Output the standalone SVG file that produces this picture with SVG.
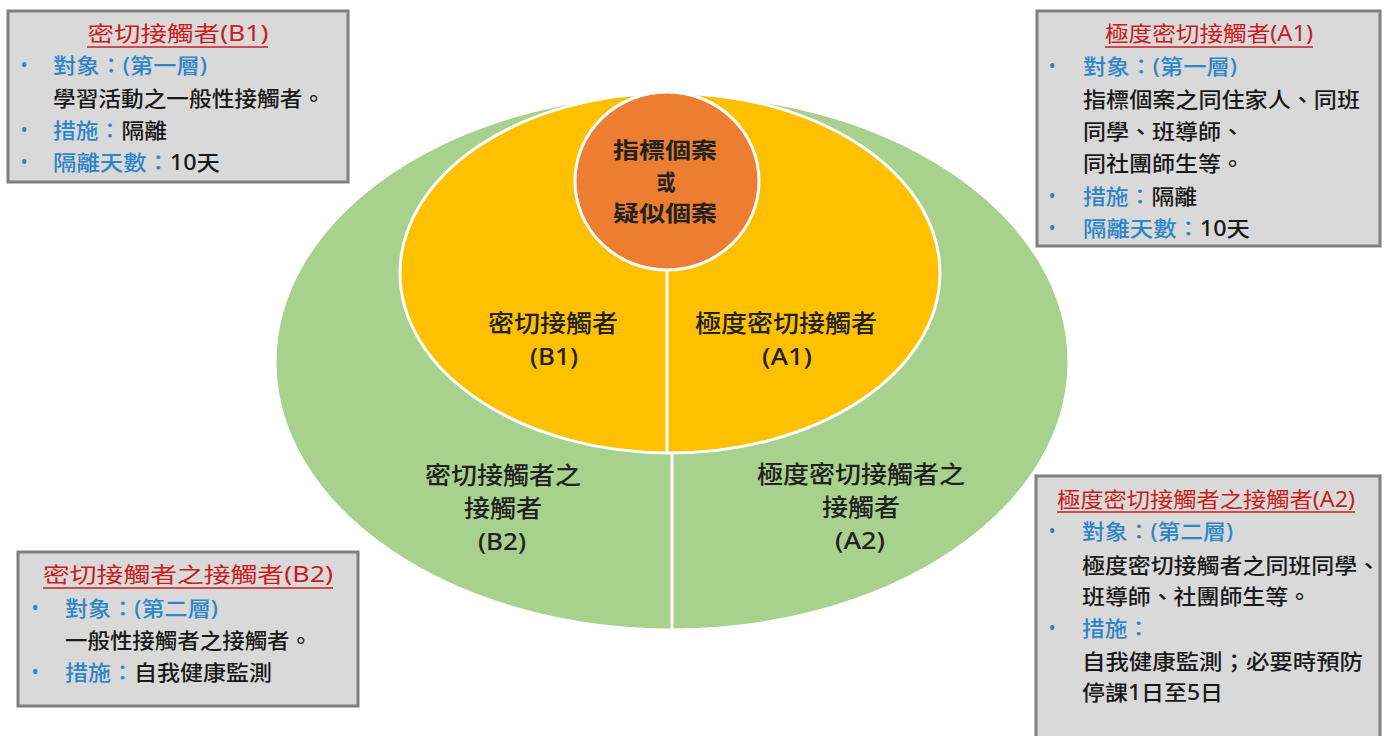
<svg xmlns="http://www.w3.org/2000/svg" width="1386" height="736" viewBox="0 0 1386 736">
<style>
text{font-family:"Noto Sans","Noto Sans CJK TC","Liberation Sans",sans-serif;fill:#1a1a1a}
.box{fill:#d9d9d9;stroke:#7f7f7f;stroke-width:3}
.title{font-size:21px;fill:#c81e1e;text-anchor:middle}
.ul{stroke:#c81e1e;stroke-width:1.5}
.body{font-size:21px;font-weight:500}
.lab{fill:#2e86c8}
.bul{font-size:19px;fill:#2e86c8;text-anchor:middle}
.el{font-size:24px;text-anchor:middle;font-weight:500;fill:#222}
.ctr{font-size:22px;text-anchor:middle;font-weight:bold;fill:#222}
.sep{stroke:#fff;stroke-width:3}
</style>
<rect width="1386" height="736" fill="#fff"/>
<g id="rings">
<ellipse cx="672" cy="362" rx="397" ry="268" fill="#a9d18e" stroke="#fff" stroke-width="3"/>
<ellipse cx="670" cy="273" rx="270" ry="180" fill="#ffc000" stroke="#fff" stroke-width="3"/>
<ellipse cx="667" cy="181" rx="92" ry="89" fill="#ed7d31" stroke="#fff" stroke-width="3"/>
<line class="sep" x1="667" y1="270" x2="667" y2="453"/>
<line class="sep" x1="672" y1="453" x2="672" y2="630"/>
</g>
<g id="index-case">
<text class="ctr" x="665" y="158" textLength="104" lengthAdjust="spacingAndGlyphs">指標個案</text>
<text class="ctr" x="666" y="190" textLength="19" lengthAdjust="spacingAndGlyphs">或</text>
<text class="ctr" x="665" y="221" textLength="104" lengthAdjust="spacingAndGlyphs">疑似個案</text>
</g>
<g id="B1-zone">
<text class="el" x="553" y="332" textLength="130" lengthAdjust="spacingAndGlyphs">密切接觸者</text>
<text class="el" x="554" y="365" textLength="48" lengthAdjust="spacingAndGlyphs">(B1)</text>
</g>
<g id="A1-zone">
<text class="el" x="786" y="332" textLength="182" lengthAdjust="spacingAndGlyphs">極度密切接觸者</text>
<text class="el" x="787" y="365" textLength="50" lengthAdjust="spacingAndGlyphs">(A1)</text>
</g>
<g id="B2-zone">
<text class="el" x="503" y="484" textLength="156" lengthAdjust="spacingAndGlyphs">密切接觸者之</text>
<text class="el" x="503" y="517" textLength="78" lengthAdjust="spacingAndGlyphs">接觸者</text>
<text class="el" x="502" y="550" textLength="48" lengthAdjust="spacingAndGlyphs">(B2)</text>
</g>
<g id="A2-zone">
<text class="el" x="861" y="483" textLength="208" lengthAdjust="spacingAndGlyphs">極度密切接觸者之</text>
<text class="el" x="861" y="516" textLength="78" lengthAdjust="spacingAndGlyphs">接觸者</text>
<text class="el" x="860" y="549" textLength="50" lengthAdjust="spacingAndGlyphs">(A2)</text>
</g>
<g id="box-B1">
<rect class="box" x="8" y="11" width="340" height="171"/>
<text class="title" x="178" y="41" textLength="181" lengthAdjust="spacingAndGlyphs">密切接觸者(B1)</text>
<line class="ul" x1="87" y1="47" x2="268" y2="47"/>
<text class="bul" x="24" y="72">•</text>
<text class="body" x="53" y="73" textLength="154" lengthAdjust="spacingAndGlyphs"><tspan class="lab">對象：(第一層)</tspan></text>
<text class="body" x="53" y="106" textLength="272" lengthAdjust="spacingAndGlyphs">學習活動之一般性接觸者。</text>
<text class="bul" x="24" y="137">•</text>
<text class="body" x="53" y="138" textLength="114" lengthAdjust="spacingAndGlyphs"><tspan class="lab">措施：</tspan>隔離</text>
<text class="bul" x="24" y="169">•</text>
<text class="body" x="53" y="170" textLength="167" lengthAdjust="spacingAndGlyphs"><tspan class="lab">隔離天數：</tspan>10天</text>
</g>
<g id="box-A1">
<rect class="box" x="1037" y="11" width="343" height="235"/>
<text class="title" x="1209" y="41" textLength="208" lengthAdjust="spacingAndGlyphs">極度密切接觸者(A1)</text>
<line class="ul" x1="1105" y1="47" x2="1313" y2="47"/>
<text class="bul" x="1052" y="73">•</text>
<text class="body" x="1083" y="74" textLength="154" lengthAdjust="spacingAndGlyphs"><tspan class="lab">對象：(第一層)</tspan></text>
<text class="body" x="1083" y="107" textLength="277" lengthAdjust="spacingAndGlyphs">指標個案之同住家人、同班</text>
<text class="body" x="1083" y="139" textLength="161" lengthAdjust="spacingAndGlyphs">同學、班導師、</text>
<text class="body" x="1083" y="171" textLength="161" lengthAdjust="spacingAndGlyphs">同社團師生等。</text>
<text class="bul" x="1052" y="203">•</text>
<text class="body" x="1083" y="204" textLength="114" lengthAdjust="spacingAndGlyphs"><tspan class="lab">措施：</tspan>隔離</text>
<text class="bul" x="1052" y="235">•</text>
<text class="body" x="1083" y="236" textLength="167" lengthAdjust="spacingAndGlyphs"><tspan class="lab">隔離天數：</tspan>10天</text>
</g>
<g id="box-A2">
<rect class="box" x="1036" y="476" width="344" height="272"/>
<text class="title" x="1206" y="507" textLength="298" lengthAdjust="spacingAndGlyphs">極度密切接觸者之接觸者(A2)</text>
<line class="ul" x1="1057" y1="512" x2="1355" y2="512"/>
<text class="bul" x="1052" y="538">•</text>
<text class="body" x="1082" y="539" textLength="151" lengthAdjust="spacingAndGlyphs"><tspan class="lab">對象：(第二層)</tspan></text>
<text class="body" x="1082" y="573" textLength="298" lengthAdjust="spacingAndGlyphs">極度密切接觸者之同班同學、</text>
<text class="body" x="1082" y="604" textLength="229" lengthAdjust="spacingAndGlyphs">班導師、社團師生等。</text>
<text class="bul" x="1052" y="635">•</text>
<text class="body" x="1082" y="636" textLength="68" lengthAdjust="spacingAndGlyphs"><tspan class="lab">措施：</tspan></text>
<text class="body" x="1082" y="669" textLength="281" lengthAdjust="spacingAndGlyphs">自我健康監測；必要時預防</text>
<text class="body" x="1082" y="700" textLength="141" lengthAdjust="spacingAndGlyphs">停課1日至5日</text>
</g>
<g id="box-B2">
<rect class="box" x="18" y="552" width="340" height="154"/>
<text class="title" x="188" y="582" textLength="290" lengthAdjust="spacingAndGlyphs">密切接觸者之接觸者(B2)</text>
<line class="ul" x1="43" y1="588" x2="333" y2="588"/>
<text class="bul" x="35" y="615">•</text>
<text class="body" x="65" y="616" textLength="153" lengthAdjust="spacingAndGlyphs"><tspan class="lab">對象：(第二層)</tspan></text>
<text class="body" x="65" y="648" textLength="247" lengthAdjust="spacingAndGlyphs">一般性接觸者之接觸者。</text>
<text class="bul" x="35" y="679">•</text>
<text class="body" x="65" y="680" textLength="207" lengthAdjust="spacingAndGlyphs"><tspan class="lab">措施：</tspan>自我健康監測</text>
</g>
<g id="connectors"></g>
</svg>
